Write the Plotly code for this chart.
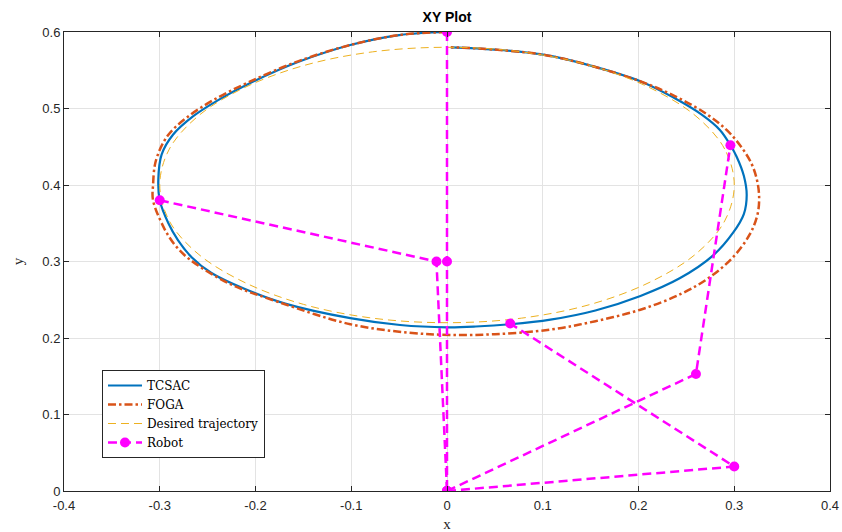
import plotly.graph_objects as go

# TCSAC trajectory
tcsac_x = [0.000, -0.050, -0.101, -0.155, -0.206, -0.239, -0.265, -0.286, -0.298, -0.3015,
           -0.300, -0.291, -0.281, -0.267, -0.246, -0.211, -0.169, -0.101, -0.049, 0.000,
           0.030, 0.066, 0.108, 0.155, 0.202, 0.243, 0.278, 0.299, 0.310, 0.313,
           0.310, 0.3025, 0.296, 0.285, 0.266, 0.237, 0.203, 0.150, 0.102, 0.050, 0.004]
tcsac_y = [0.600, 0.596, 0.583, 0.561, 0.533, 0.511, 0.490, 0.466, 0.440, 0.407,
           0.380, 0.350, 0.328, 0.306, 0.285, 0.264, 0.245, 0.226, 0.217, 0.214,
           0.215, 0.218, 0.224, 0.236, 0.255, 0.278, 0.308, 0.338, 0.362, 0.387,
           0.412, 0.437, 0.452, 0.472, 0.492, 0.514, 0.535, 0.556, 0.570, 0.577, 0.580]

# FOGA trajectory
foga_x = [0.000, -0.050, -0.101, -0.155, -0.206, -0.244, -0.272, -0.292, -0.304, -0.307,
          -0.307, -0.296, -0.285, -0.270, -0.228, -0.176, -0.101, -0.040, 0.003, 0.050,
          0.108, 0.155, 0.202, 0.245, 0.275, 0.299, 0.316, 0.324, 0.326, 0.324,
          0.318, 0.306, 0.292, 0.272, 0.240, 0.203, 0.150, 0.102, 0.050, 0.004]
foga_y = [0.600, 0.596, 0.583, 0.562, 0.535, 0.511, 0.488, 0.464, 0.432, 0.400,
          0.380, 0.345, 0.323, 0.304, 0.2715, 0.247, 0.218, 0.207, 0.204, 0.205,
          0.211, 0.222, 0.237, 0.258, 0.280, 0.306, 0.335, 0.360, 0.382, 0.405,
          0.428, 0.452, 0.472, 0.492, 0.515, 0.535, 0.556, 0.570, 0.577, 0.580]

# Desired trajectory
des_x = [0.300, 0.290, 0.260, 0.212, 0.150, 0.078, 0.000, -0.078, -0.150, -0.212, -0.260, -0.290,
         -0.300, -0.290, -0.260, -0.212, -0.150, -0.078, 0.000, 0.078, 0.150, 0.212, 0.260, 0.290, 0.300]
des_y = [0.400, 0.447, 0.490, 0.527, 0.556, 0.574, 0.580, 0.574, 0.556, 0.527, 0.490, 0.447,
         0.400, 0.353, 0.310, 0.273, 0.244, 0.226, 0.220, 0.226, 0.244, 0.273, 0.310, 0.353, 0.400]

# Robot configurations (base, elbow, tip)
robot_x = [0.000, 0.000, 0.000, None, 0.000, -0.011, -0.300, None, 0.000, 0.260, 0.296, None, 0.000, 0.300, 0.066]
robot_y = [0.600, 0.300, 0.000, None, 0.000, 0.300, 0.380, None, 0.000, 0.153, 0.452, None, 0.000, 0.032, 0.219]

x_ticks = [-0.4, -0.3, -0.2, -0.1, 0, 0.1, 0.2, 0.3, 0.4]
x_tick_text = ["-0.4", "-0.3", "-0.2", "-0.1", "0", "0.1", "0.2", "0.3", "0.4"]
y_ticks = [0, 0.1, 0.2, 0.3, 0.4, 0.5, 0.6]
y_tick_text = ["0", "0.1", "0.2", "0.3", "0.4", "0.5", "0.6"]

fig = go.Figure()
fig.add_trace(go.Scatter(x=tcsac_x, y=tcsac_y, mode="lines", name="TCSAC",
                         line=dict(color="#0072BD", width=2.2, shape="spline", smoothing=1)))
fig.add_trace(go.Scatter(x=foga_x, y=foga_y, mode="lines", name="FOGA",
                         line=dict(color="#D95319", width=2.5, dash="8px,3px,2.5px,3px",
                                   shape="spline", smoothing=1)))
fig.add_trace(go.Scatter(x=des_x, y=des_y, mode="lines", name="Desired trajectory",
                         line=dict(color="#EDB120", width=1, dash="8px,5px", shape="spline", smoothing=1)))
fig.add_trace(go.Scatter(x=robot_x, y=robot_y, mode="lines+markers", name="Robot",
                         line=dict(color="#FF00FF", width=2.5, dash="9px,5px"),
                         marker=dict(color="#FF00FF", size=10), connectgaps=False))

axis_common = dict(
    showline=True, linecolor="#262626", linewidth=1, mirror="ticks",
    ticks="inside", ticklen=5, tickcolor="#262626", automargin=False,
    showgrid=True, gridcolor="#E3E3E3", gridwidth=1, zeroline=False,
    tickfont=dict(family="Liberation Sans, Arial", size=13, color="#262626"),
)

fig.update_layout(
    width=842, height=532,
    margin=dict(l=64, r=12, t=32, b=41, autoexpand=False),
    paper_bgcolor="white", plot_bgcolor="white",
    title=dict(text="<b>XY Plot</b>", x=0.5, xanchor="center", xref="paper",
               yref="container", y=0.977, yanchor="top",
               font=dict(family="Liberation Sans, Arial", size=14, color="#000000")),
    xaxis=dict(range=[-0.4, 0.4], tickvals=x_ticks, ticktext=x_tick_text, ticklabelstandoff=2,
               title=dict(text="x", standoff=6, font=dict(family="Liberation Serif, Times New Roman", size=15, color="#262626")),
               **axis_common),
    yaxis=dict(range=[0, 0.6], tickvals=y_ticks, ticktext=y_tick_text,
               title=dict(text="y", standoff=15, font=dict(family="Liberation Serif, Times New Roman", size=15, color="#262626")),
               **axis_common),
    legend=dict(x=0.0496, y=0.2636, xanchor="left", yanchor="top",
                bgcolor="white", bordercolor="#262626", borderwidth=1,
                font=dict(family="DejaVu Serif, Liberation Serif", size=12, color="#000000"),
                tracegroupgap=0, itemwidth=34),
    showlegend=True,
)

fig.write_html("out.html", config={"displayModeBar": False},
               post_script="document.body.style.margin='0';")
